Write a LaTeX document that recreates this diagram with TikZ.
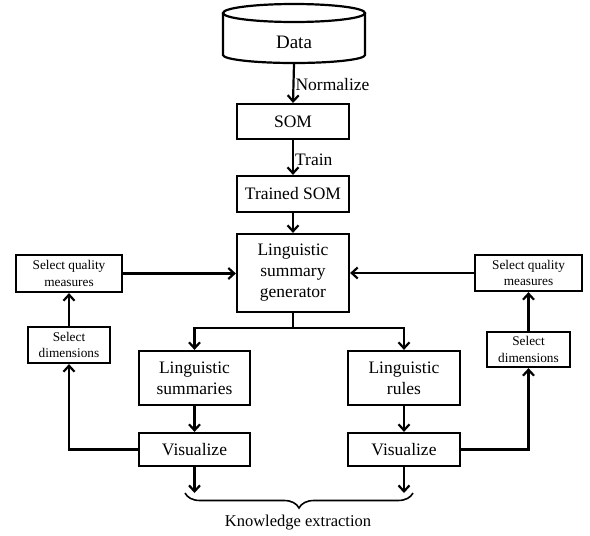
\documentclass[tikz,border=0pt]{standalone}
\usepackage{fontspec}
\setmainfont{Liberation Serif}
\usetikzlibrary{arrows.meta,decorations.pathreplacing}
\begin{document}
\begin{tikzpicture}[x=1pt,y=-1pt,
  line width=2.2pt,
  box/.style={draw,rectangle,inner sep=0pt,align=center,font=\fontsize{17.5}{21}\selectfont},
  sbox/.style={draw,rectangle,inner sep=0pt,align=center,font=\fontsize{13.3}{16.5}\selectfont},
  arr/.style={-{Straight Barb[length=6pt,width=11pt,line width=2.2pt]}},
  lbl/.style={font=\fontsize{17.5}{21}\selectfont,inner sep=1pt}]
\useasboundingbox (0,0) rectangle (590,536);
% cylinder
\draw (223,13) -- (223,55) arc[start angle=180,end angle=360,x radius=71pt,y radius=8pt] -- (365,13);
\draw (294,13) ellipse[x radius=71pt,y radius=9pt];
\node[inner sep=0pt,minimum width=142pt,minimum height=41pt,font=\fontsize{19}{22}\selectfont] (data) at (294,42.5) {Data};
% main column
\node[box,minimum width=112pt,minimum height=35pt] (som) at (293,121.5) {SOM};
\node[box,minimum width=112pt,minimum height=36pt] (trained) at (293,194) {Trained SOM};
\node[box,minimum width=112pt,minimum height=78pt] (gen) at (293,273) {Linguistic\\summary\\generator};
% side boxes
\node[sbox,minimum width=106pt,minimum height=37pt] (lqm) at (69,273.5) {Select quality\\measures};
\node[sbox,minimum width=82pt,minimum height=36pt] (ldim) at (69,345) {Select\\dimensions};
\node[sbox,minimum width=107pt,minimum height=36pt] (rqm) at (528.5,273) {Select quality\\measures};
\node[sbox,minimum width=83pt,minimum height=35pt] (rdim) at (528.5,349.5) {Select\\dimensions};
% lower boxes
\node[box,minimum width=111pt,minimum height=54pt] (lsum) at (194.5,378) {Linguistic\\summaries};
\node[box,minimum width=112pt,minimum height=54pt] (lrul) at (404,378) {Linguistic\\rules};
\node[box,minimum width=111pt,minimum height=33pt] (lvis) at (194.5,449.5) {Visualize};
\node[box,minimum width=112pt,minimum height=33pt] (rvis) at (404,449.5) {Visualize};
\coordinate (lend) at (194.5,493);
\coordinate (rend) at (404,493);
% connectors
\draw[arr] (data.south) -- node[lbl,anchor=west,yshift=-1pt] {Normalize} (som.north);
\draw[arr] (som.south) -- node[lbl,anchor=west,yshift=-2pt] {Train} (trained.north);
\draw[arr] (trained.south) -- (gen.north);
\draw[arr] (lqm.east) -- (gen.west |- lqm.east);
\draw[arr] (rqm.west) -- (gen.east |- rqm.west);
\draw[arr] (gen.south) -- ++(0,15) -| (lsum.north);
\draw[arr] (gen.south) -- ++(0,15) -| (lrul.north);
\draw[arr] (lsum.south) -- (lvis.north);
\draw[arr] (lrul.south) -- (rvis.north);
\draw[arr] (lvis.west) -| (ldim.south);
\draw[arr] (ldim.north) -- (lqm.south);
\draw[arr] (rvis.east) -| (rdim.south);
\draw[arr] (rdim.north) -- (rqm.south);
\draw[arr] (lvis.south) -- (lend);
\draw[arr] (rvis.south) -- (rend);
% brace
\draw[line width=1.6pt,decorate,decoration={brace,mirror,amplitude=15pt}] (185,493) -- (413,493);
\node[font=\fontsize{16.5}{20}\selectfont] (ke) at (298,523) {Knowledge extraction};
\end{tikzpicture}
\end{document}
